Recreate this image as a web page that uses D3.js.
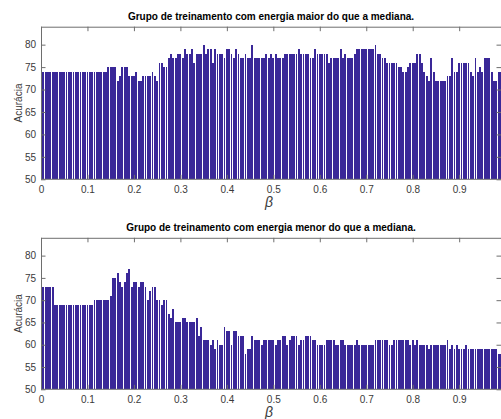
<!DOCTYPE html>
<html>
<head>
<meta charset="utf-8">
<script src="https://cdn.jsdelivr.net/npm/d3@7/dist/d3.min.js"></script>
<style>
  body { margin: 0; background: #fff; }
  svg { display: block; font-family: "Liberation Sans", Arial, sans-serif; }
</style>
</head>
<body>
<div id="chart"></div>
<script>
// beta goes 0, 0.005, 0.010 ... (one bar per step)
var betaStep = 0.005;
var xTicks = [0, 0.1, 0.2, 0.3, 0.4, 0.5, 0.6, 0.7, 0.8, 0.9];
var yTicks = [50, 55, 60, 65, 70, 75, 80];
var xLimits = [0, 0.99];
var yLimits = [50, 84];

var titleMaior = "Grupo de treinamento com energia maior do que a mediana.";
var titleMenor = "Grupo de treinamento com energia menor do que a mediana.";

// accuracy, group with energy above the median
var accMaior = [
  74, 74, 74, 74, 74, 74, 74, 74, 74, 74,
  74, 74, 74, 74, 74, 74, 74, 74, 74, 74,
  74, 74, 74, 74, 74, 74, 74, 74, 74, 75,
  75, 75, 75, 72, 73, 75, 75, 75, 73, 73,
  73, 74, 72, 72, 73, 73, 73, 73, 74, 73,
  72, 76, 76, 75, 75, 77, 78, 77, 77, 78,
  78, 77, 79, 78, 78, 79, 76, 78, 78, 78,
  80, 78, 79, 79, 76, 79, 78, 78, 78, 77,
  79, 79, 78, 77, 79, 78, 77, 77, 78, 77,
  77, 80, 77, 77, 77, 77, 77, 78, 77, 78,
  77, 78, 77, 77, 77, 78, 78, 78, 78, 78,
  78, 79, 78, 78, 78, 78, 77, 77, 79, 78,
  78, 78, 78, 78, 76, 77, 77, 77, 77, 79,
  77, 78, 77, 77, 77, 78, 79, 79, 79, 79,
  79, 79, 79, 79, 80, 78, 78, 77, 77, 76,
  76, 76, 76, 76, 75, 75, 74, 74, 75, 76,
  76, 76, 78, 78, 76, 74, 73, 72, 77, 74,
  72, 72, 72, 72, 72, 73, 73, 77, 74, 74,
  76, 76, 76, 76, 76, 74, 73, 77, 74, 75,
  74, 77, 77, 77, 74, 72, 72, 74, 74, 74
];

// accuracy, group with energy below the median
var accMenor = [
  73, 73, 73, 73, 73, 73, 69, 69, 69, 69,
  69, 69, 69, 69, 69, 69, 69, 69, 69, 69,
  69, 69, 69, 70, 70, 70, 70, 70, 70, 70,
  71, 75, 75, 76, 74, 73, 74, 76, 77, 73,
  74, 74, 73, 74, 74, 73, 70, 72, 73, 73,
  70, 70, 69, 70, 70, 67, 66, 68, 65, 65,
  65, 66, 66, 65, 65, 65, 65, 66, 62, 64,
  61, 61, 61, 60, 61, 59, 61, 60, 60, 64,
  63, 63, 60, 63, 63, 62, 62, 62, 58, 59,
  59, 62, 61, 61, 61, 60, 61, 61, 61, 61,
  61, 60, 61, 61, 62, 62, 60, 61, 62, 62,
  62, 60, 61, 61, 62, 62, 62, 61, 61, 60,
  60, 60, 60, 61, 61, 61, 61, 60, 60, 61,
  61, 60, 60, 60, 60, 60, 61, 60, 60, 60,
  60, 60, 60, 60, 61, 61, 61, 61, 61, 61,
  60, 60, 61, 61, 61, 61, 61, 61, 61, 60,
  61, 60, 61, 60, 60, 60, 60, 59, 60, 60,
  60, 60, 60, 60, 60, 61, 59, 60, 59, 60,
  59, 59, 59, 60, 59, 59, 59, 59, 59, 59,
  59, 59, 59, 59, 59, 59, 59, 58, 58, 59
];

var svgWidth = 501;
var svgHeight = 419;
var lineColor = "#6e6e6e";
var textColor = "#3a3a3a";
var barColor = "#3a2898";

var svg = d3.select("#chart")
  .append("svg")
  .attr("width", svgWidth)
  .attr("height", svgHeight);

var xScale = d3.scaleLinear()
  .domain(xLimits)
  .range([41, 501]);

function drawPanel(values, title, top, bottom, id) {
  var yScale = d3.scaleLinear()
    .domain(yLimits)
    .range([bottom, top]);

  var left = xScale.range()[0];
  var right = xScale.range()[1];

  svg.append("clipPath")
    .attr("id", id)
    .append("rect")
    .attr("x", left)
    .attr("y", top)
    .attr("width", right - left)
    .attr("height", bottom - top);

  var barWidth = (xScale(betaStep) - xScale(0)) * 0.8;

  svg.append("g")
    .attr("clip-path", `url(#${id})`)
    .selectAll("rect")
    .data(values)
    .enter()
    .append("rect")
    .attr("x", (d, i) => xScale(i * betaStep) - barWidth / 2)
    .attr("y", d => yScale(d))
    .attr("width", barWidth)
    .attr("height", d => yScale(yLimits[0]) - yScale(d))
    .attr("fill", barColor)
    .attr("shape-rendering", "crispEdges");

  // bottom axis with labels, ticks pointing inward
  var bottomAxis = d3.axisBottom(xScale)
    .tickValues(xTicks)
    .tickFormat(d3.format("~g"))
    .tickSizeInner(-4.5)
    .tickSizeOuter(0)
    .tickPadding(6.3);

  var gx = svg.append("g")
    .attr("transform", `translate(0, ${bottom})`)
    .call(bottomAxis);

  var topAxis = d3.axisTop(xScale)
    .tickValues(xTicks)
    .tickFormat("")
    .tickSizeInner(-4.5)
    .tickSizeOuter(0);

  var gxt = svg.append("g")
    .attr("transform", `translate(0, ${top})`)
    .call(topAxis);

  var leftAxis = d3.axisLeft(yScale)
    .tickValues(yTicks)
    .tickSizeInner(-4.5)
    .tickSizeOuter(0)
    .tickPadding(5);

  var gy = svg.append("g")
    .attr("transform", `translate(${left}, 0)`)
    .call(leftAxis);

  var rightAxis = d3.axisRight(yScale)
    .tickValues(yTicks)
    .tickFormat("")
    .tickSizeInner(-4.5)
    .tickSizeOuter(0);

  var gyr = svg.append("g")
    .attr("transform", `translate(${right}, 0)`)
    .call(rightAxis);

  [gx, gxt, gy, gyr].forEach(function(g) {
    g.select(".domain").remove();
    g.selectAll("line").attr("stroke", lineColor);
    g.selectAll("text")
      .attr("fill", textColor)
      .style("font-size", "10px")
      .style("font-family", "'Liberation Sans', Arial, sans-serif");
  });

  // box round the plot
  svg.append("rect")
    .attr("x", left + 0.5)
    .attr("y", top + 0.5)
    .attr("width", right - left)
    .attr("height", bottom - top - 0.5)
    .attr("fill", "none")
    .attr("stroke", lineColor)
    .attr("stroke-width", 1);

  svg.append("text")
    .attr("x", (left + right) / 2)
    .attr("y", top - 7)
    .attr("text-anchor", "middle")
    .attr("fill", "#000")
    .style("font-size", "10px")
    .style("font-weight", "bold")
    .text(title);

  svg.append("text")
    .attr("transform", `translate(22, ${(top + bottom) / 2}) rotate(-90)`)
    .attr("text-anchor", "middle")
    .attr("fill", textColor)
    .style("font-size", "10px")
    .text("Acurácia");

  svg.append("text")
    .attr("x", 269)
    .attr("y", bottom + 27.5)
    .attr("text-anchor", "middle")
    .attr("fill", textColor)
    .style("font-size", "14px")
    .style("font-style", "italic")
    .text("β");
}

drawPanel(accMaior, titleMaior, 26.7, 179.3, "clipMaior");
drawPanel(accMenor, titleMenor, 237.8, 389.3, "clipMenor");
</script>
</body>
</html>
